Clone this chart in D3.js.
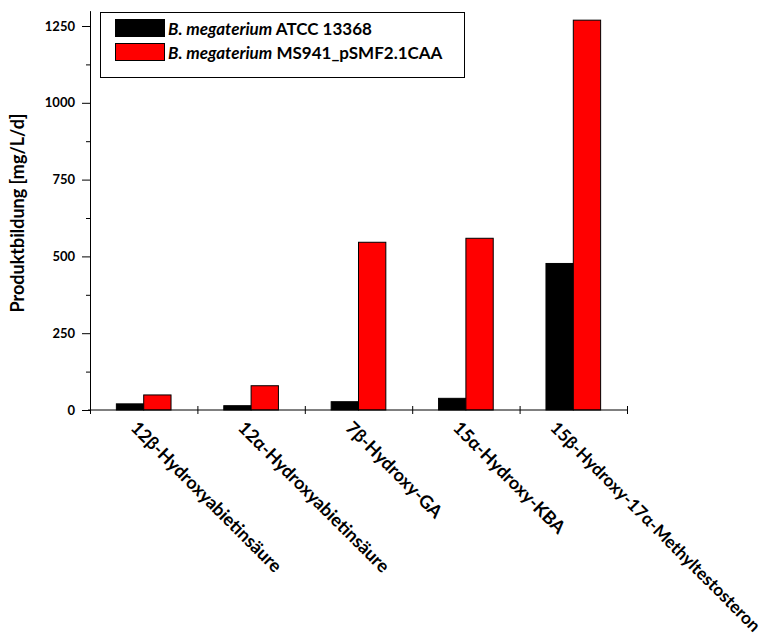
<!DOCTYPE html>
<html>
<head>
<meta charset="utf-8">
<script src="https://cdn.jsdelivr.net/npm/d3@7"></script>
<style>
  html, body { margin: 0; padding: 0; background: #fff; }
  svg { display: block; }
  text { font-family: Lato, "Open Sans", sans-serif; font-weight: bold; fill: #000; }
</style>
</head>
<body>
<svg id="chart" width="766" height="636"></svg>
<script>
// Products formed by each strain
const categories = [
  "12β-Hydroxyabietinsäure",
  "12α-Hydroxyabietinsäure",
  "7β-Hydroxy-GA",
  "15α-Hydroxy-KBA",
  "15β-Hydroxy-17α-Methyltestosteron"
];
const seriesNames = ["ATCC 13368", "MS941_pSMF2.1CAA"];
const wildType = [20, 14, 27, 38, 477];        // B. megaterium ATCC 13368
const engineered = [49, 79, 546, 559, 1269];   // B. megaterium MS941_pSMF2.1CAA
const yTicks = [0, 250, 500, 750, 1000, 1250];
const yMinorTicks = [125, 375, 625, 875, 1125];
const colors = ["#000000", "#ff0000"];

const W = 766, H = 636;
const svg = d3.select("#chart");

const left = 90, right = 627, bottom = 410;

const y = d3.scaleLinear().domain([0, 1300]).range([bottom, bottom - 1300 * 0.3072]);
const x = d3.scaleBand().domain(categories).range([left, right]).padding(0);
const xSub = d3.scaleBand().domain(seriesNames).range([0, x.bandwidth()])
  .paddingInner(0).paddingOuter(0.965);

const rows = categories.map((c, i) => ({ cat: c, values: [wildType[i], engineered[i]] }));

// Bars
const groups = svg.append("g").selectAll("g")
  .data(rows).join("g")
  .attr("transform", d => `translate(${x(d.cat)},0)`);

groups.selectAll("rect")
  .data(d => d.values.map((v, k) => ({ v, k })))
  .join("rect")
  .attr("x", d => xSub(seriesNames[d.k]))
  .attr("y", d => y(d.v))
  .attr("width", xSub.bandwidth())
  .attr("height", d => y(0) - y(d.v))
  .attr("fill", d => colors[d.k])
  .attr("stroke", "#000")
  .attr("stroke-width", 1);

// Y axis: major ticks with labels
const yAxis = svg.append("g")
  .attr("transform", `translate(${left},0)`)
  .call(d3.axisLeft(y).tickValues(yTicks).tickFormat(d3.format("d"))
    .tickSize(8).tickSizeOuter(0).tickPadding(7));
yAxis.selectAll("text").style("font-size", "13px").style("font-family", "Lato, sans-serif").style("font-weight", "bold");

// Y axis: minor ticks
svg.append("g")
  .attr("transform", `translate(${left},0)`)
  .call(d3.axisLeft(y).tickValues(yMinorTicks).tickSize(4).tickSizeOuter(0).tickFormat(""))
  .select(".domain").remove();

// X axis: ticks at category boundaries, crossing the axis line
const xEdge = d3.scaleLinear().domain([0, categories.length]).range([left, right]);
const xAxis = svg.append("g")
  .attr("transform", `translate(0,${bottom})`)
  .call(d3.axisBottom(xEdge).tickValues(d3.range(0, categories.length + 1)).tickSize(4).tickSizeOuter(0).tickFormat(""));
xAxis.selectAll(".tick line").attr("y1", -4).attr("y2", 4);
xAxis.select(".domain").attr("d", `M${left - 2},0H${right}`);

// Rotated category labels (45°). A label that would run off the page is
// first pulled left a little, then set in a smaller size until it fits.
const labelY = 429, labelSize = 18;
const labels = svg.append("g").selectAll("text")
  .data(categories).join("text")
  .attr("text-anchor", "start")
  .style("font-size", labelSize + "px")
  .text(c => c);
labels.each(function (c) {
  const el = d3.select(this);
  let len = this.getComputedTextLength();
  const centre = x(c) + x.bandwidth() / 2;
  let sx = centre - 14;
  const reach = sx + Math.SQRT1_2 * (len + 10);
  if (reach > W - 2) sx = Math.max(centre - 24, sx - (reach - (W - 2)));
  const maxByRight = (W - 2 - sx) / Math.SQRT1_2 - 10;
  const maxByBottom = (H - 3 - labelY) / Math.SQRT1_2;
  const maxLen = Math.min(maxByRight, maxByBottom);
  if (len > maxLen) {
    el.style("font-size", (labelSize * maxLen / len).toFixed(2) + "px");
  }
  el.attr("transform", `translate(${sx},${labelY}) rotate(45)`);
});

// Y axis title
svg.append("text")
  .attr("transform", "translate(24,213) rotate(-90)")
  .attr("text-anchor", "middle")
  .style("font-size", "18px")
  .text("Produktbildung [mg/L/d]");

// Legend
const legend = svg.append("g");
legend.append("rect")
  .attr("x", 100.5).attr("y", 12.5).attr("width", 364).attr("height", 65)
  .attr("fill", "#fff").attr("stroke", "#000").attr("stroke-width", 1);
seriesNames.forEach((name, k) => {
  const yy = 19.5 + k * 24;
  legend.append("rect")
    .attr("x", 115.5).attr("y", yy).attr("width", 49).attr("height", 17)
    .attr("fill", colors[k]).attr("stroke", "#000").attr("stroke-width", 1);
  const t = legend.append("text")
    .attr("x", 168).attr("y", yy + 15.5)
    .style("font-size", "17px");
  t.append("tspan").style("font-style", "italic").text("B. megaterium");
  t.append("tspan").text(" " + name);
});
</script>
</body>
</html>
